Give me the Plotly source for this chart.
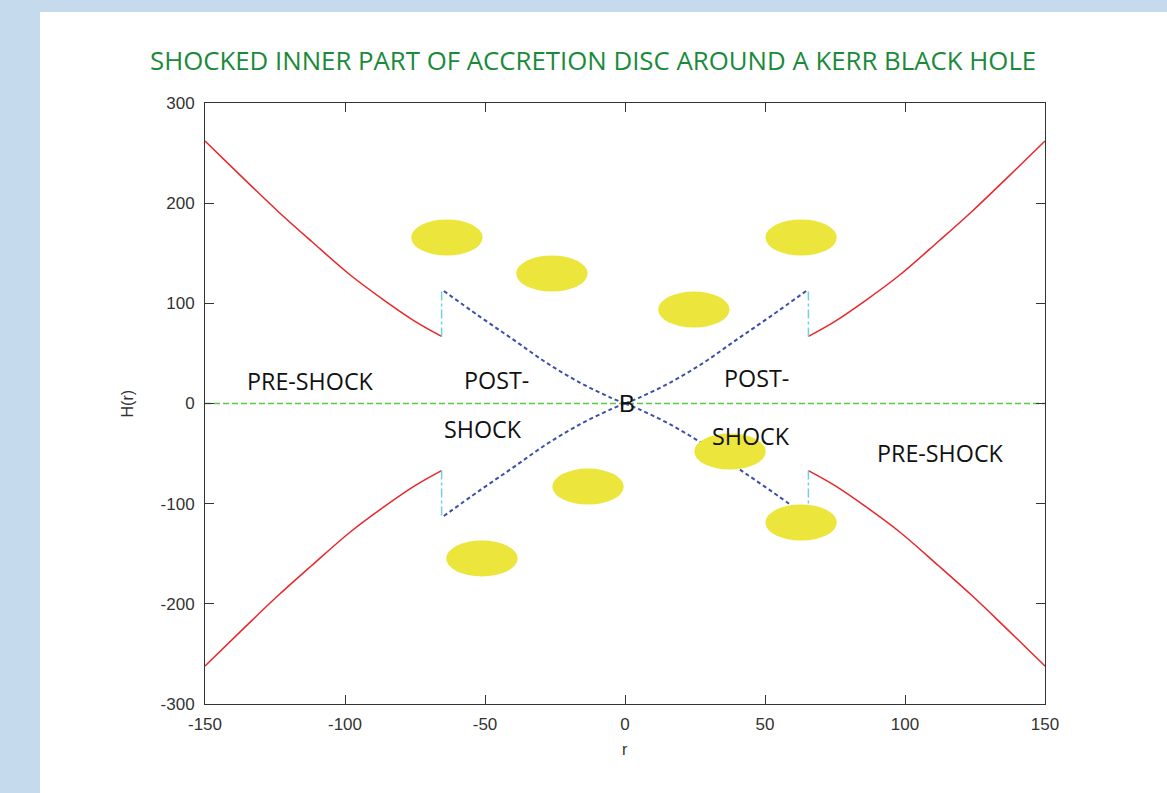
import plotly.graph_objects as go

# Disc half-thickness H(r) for the right-hand upper branch; the other
# three branches follow from the disc's reflection symmetry.
r_pre = [65.5, 75, 86, 98, 112, 124, 136, 150]
h_pre = [67, 82, 103, 128, 162, 192, 224, 262]

r_post = [0, 5, 16, 28, 40, 52, 65.5]
h_post = [0, 5.7, 20.7, 40.6, 64, 87, 114]

r_shock = 65.5
h_shock = [67, 114]

r_axis = [-150, 150]
h_axis = [0, 0]

# Yellow blobs (centre r, centre H)
blob_r = [-63.6, -26.1, 24.6, 62.9, -13.2, 37.5, 62.9, -51.1]
blob_h = [165.7, 129.8, 93.8, 165.7, -82.9, -47.9, -118.8, -154.7]
blob_w = 25.5
blob_hh = 36

# Region labels
label_text = ["PRE-SHOCK", "POST-", "SHOCK", "POST-", "SHOCK", "PRE-SHOCK"]
label_r = [-112.5, -46, -50.7, 46.8, 45, 112.5]
label_h = [22.9, 23, -25, 25, -32, -49]

x_ticks = [-150, -100, -50, 0, 50, 100, 150]
x_tick_text = ["-150", "-100", "-50", "0", "50", "100", "150"]
y_ticks = [-300, -200, -100, 0, 100, 200, 300]
y_tick_text = ["-300", "-200", "-100", "0", "100", "200", "300"]

RED = "#e8262a"
BLUE = "#3a4fa8"
CYAN = "#6fd0e0"
GREEN = "#5cc84a"
HAND = "Open Sans, sans-serif"
PLAIN = "Liberation Sans, Arial, sans-serif"

fig = go.Figure()

signs = [(1, 1), (1, -1), (-1, 1), (-1, -1)]
for sx, sy in signs:
    fig.add_trace(go.Scatter(
        x=[sx * v for v in r_pre], y=[sy * v for v in h_pre],
        mode="lines", line=dict(color=RED, width=1.5, shape="spline"),
        hoverinfo="skip"))
    fig.add_trace(go.Scatter(
        x=[sx * v for v in r_post], y=[sy * v for v in h_post],
        mode="lines", line=dict(color=BLUE, width=2, dash="4px,3px", shape="spline"),
        hoverinfo="skip"))
    fig.add_trace(go.Scatter(
        x=[sx * r_shock, sx * r_shock], y=[sy * v for v in h_shock],
        mode="lines", line=dict(color=CYAN, width=1.5, dash="dashdot"),
        hoverinfo="skip"))

fig.add_trace(go.Scatter(
    x=r_axis, y=h_axis, mode="lines",
    line=dict(color=GREEN, width=1.5, dash="6px,3px"), hoverinfo="skip"))

shapes = [
    # slide panel
    dict(type="rect", xref="paper", yref="paper",
         x0=-0.1964, x1=1.2, y0=-0.2, y1=1.1514,
         fillcolor="white", line=dict(width=0), layer="below"),
]
for cr, ch in zip(blob_r, blob_h):
    shapes.append(dict(
        type="circle", xref="x", yref="y",
        x0=cr - blob_w / 2, x1=cr + blob_w / 2,
        y0=ch - blob_hh / 2, y1=ch + blob_hh / 2,
        fillcolor="#ebe53c", line=dict(width=0), layer="above"))

annotations = [
    dict(text="SHOCKED INNER PART OF ACCRETION DISC AROUND A KERR BLACK HOLE",
         xref="paper", yref="paper", x=0.4619, y=1.0715,
         showarrow=False, xanchor="center", yanchor="middle",
         font=dict(family=HAND, size=25.8, color="#1a8a3a")),
    dict(text="B", xref="x", yref="y", x=0.8, y=0, showarrow=False,
         xanchor="center", yanchor="middle",
         font=dict(family=PLAIN, size=24, color="#111")),
    dict(text="r", xref="paper", yref="paper", x=0.5, y=-0.0765,
         showarrow=False, xanchor="center", yanchor="middle",
         font=dict(family=PLAIN, size=16, color="#333")),
    dict(text="H(r)", xref="paper", yref="paper", x=-0.0917, y=0.5,
         showarrow=False, xanchor="center", yanchor="middle", textangle=-90,
         font=dict(family=PLAIN, size=16, color="#333")),
]
for t, lr, lh in zip(label_text, label_r, label_h):
    annotations.append(dict(
        text=t, xref="x", yref="y", x=lr, y=lh, showarrow=False,
        xanchor="center", yanchor="middle",
        font=dict(family=HAND, size=23.3, color="#111")))

axis_common = dict(
    showgrid=False, zeroline=False, showline=True, linecolor="#333",
    linewidth=1, mirror="ticks", ticks="inside", ticklen=9,
    tickcolor="#333", tickwidth=1,
    tickfont=dict(family=PLAIN, size=17, color="#333"),
)

fig.update_layout(
    width=1167, height=793,
    margin=dict(l=205, r=122, t=103, b=89),
    paper_bgcolor="#c6daee", plot_bgcolor="white",
    showlegend=False,
    shapes=shapes, annotations=annotations,
    xaxis=dict(range=[-150, 150], tickvals=x_ticks, ticktext=x_tick_text,
               ticklabelstandoff=5, **axis_common),
    yaxis=dict(range=[-300, 300], tickvals=y_ticks, ticktext=y_tick_text,
               ticklabelstandoff=6, **axis_common),
)

fig.write_html("out.html")
